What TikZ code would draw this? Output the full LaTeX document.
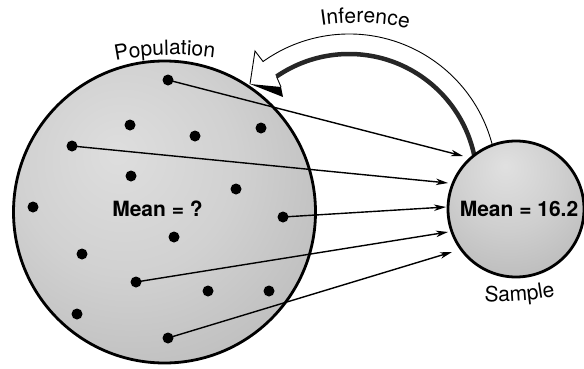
\documentclass[tikz,border=0pt]{standalone}
\usepackage{fontspec}
\setmainfont{TeX Gyre Heros}
\newfontfamily\labelfont{TeX Gyre Heros}
\usetikzlibrary{arrows.meta,decorations.text}

\pgfdeclareradialshading{popshade}{\pgfpoint{-8bp}{10bp}}{color(0bp)=(black!13); color(18bp)=(black!18); color(40bp)=(black!28); color(50bp)=(black!36); color(80bp)=(black!38)}
\pgfdeclareradialshading{sampshade}{\pgfpoint{-4bp}{16bp}}{color(0bp)=(black!12); color(20bp)=(black!19); color(45bp)=(black!30); color(60bp)=(black!38); color(90bp)=(black!40)}

\begin{document}
\begin{tikzpicture}[x=1pt,y=1pt,
  dot/.style={circle,fill=black,inner sep=0pt,minimum size=11pt},
  conn/.style={line width=1.4pt,-{Stealth[length=12pt,width=6.5pt,inset=3.5pt]}},
  bigball/.style={circle,draw=black,line width=2.8pt,inner sep=0pt,shade},
  meantext/.style={font=\bfseries\fontsize{21}{25}\selectfont,inner sep=0pt},
  infthin/.style={line width=0.9pt,line join=miter},
  infthick/.style={line width=4.5pt,black!85}
]
\useasboundingbox (0,0) rectangle (584,368);

% population
\node[bigball, minimum size=302pt, shading=popshade] (pop) at (164.5,156) {};

% inference arrow
\coordinate (ic) at (349,186);
\coordinate (ob) at (255,317);
\coordinate (itip) at (250,284);
\coordinate (ib) at (283,271);
\coordinate (ic2) at (281,281);
\coordinate (iend) at (276.5,291.5);
\draw[infthin] (ic) ++(8:148pt) arc[start angle=8,end angle=125.5,radius=148pt] -- (ob) -- (itip);
\draw[infthick] (ic) ++(5:128pt) arc[start angle=5,end angle=124.5,radius=128pt];
\fill[black] (itip) -- (ib) -- (ic2) -- cycle;
\draw[infthin] (ic2) -- (iend);

% sample
\node[bigball, minimum size=136pt, shading=sampshade] (samp) at (516,159) {};

% dots
\node[dot] (d1) at (168,288) {};
\node[dot] (d2) at (130,243) {};
\node[dot] (d3) at (195,232) {};
\node[dot] (d4) at (261,240) {};
\node[dot] (d5) at (72,222) {};
\node[dot] (d6) at (131,192) {};
\node[dot] (d7) at (236,179) {};
\node[dot] (d8) at (33,161) {};
\node[dot] (d9) at (283,151) {};
\node[dot] (d10) at (174,131) {};
\node[dot] (d11) at (82,114) {};
\node[dot] (d12) at (136,86) {};
\node[dot] (d13) at (208,77) {};
\node[dot] (d14) at (269,77) {};
\node[dot] (d15) at (77,54) {};
\node[dot] (d16) at (168,30) {};

% arrow targets
\coordinate (t1) at (463,212);
\coordinate (t2) at (448,185);
\coordinate (t3) at (446,161);
\coordinate (t4) at (448,136);
\coordinate (t5) at (452,116);

\draw[conn] (d1.center) -- (t1);
\draw[conn] (d5.center) -- (t2);
\draw[conn] (d9.center) -- (t3);
\draw[conn] (d12.center) -- (t4);
\draw[conn] (d16.center) -- (t5);

% texts
\node[meantext, anchor=base] (mq) at (157.5,152) {Mean = ?};
\node[meantext, anchor=base] (ms) at (519,151.3) {Mean = 16.2};

\path[decorate, decoration={text along path, text align=center,
  text={|\labelfont\fontsize{21}{25}\selectfont|Population}}]
  (173.6,13.1) ++(111.65:300pt) arc[start angle=111.65,end angle=71.65,radius=300pt];
\path[decorate, decoration={text along path, text align=center,
  text={|\labelfont\fontsize{21}{25}\selectfont|Inference}}]
  (357.2,95.1) ++(108.2:250pt) arc[start angle=108.2,end angle=68.2,radius=250pt];
\path[decorate, decoration={text along path, text align=center,
  text={|\labelfont\fontsize{21}{25}\selectfont|Sample}}]
  (502.6,316.4) ++(262:250pt) arc[start angle=262,end angle=286,radius=250pt];
\end{tikzpicture}
\end{document}
